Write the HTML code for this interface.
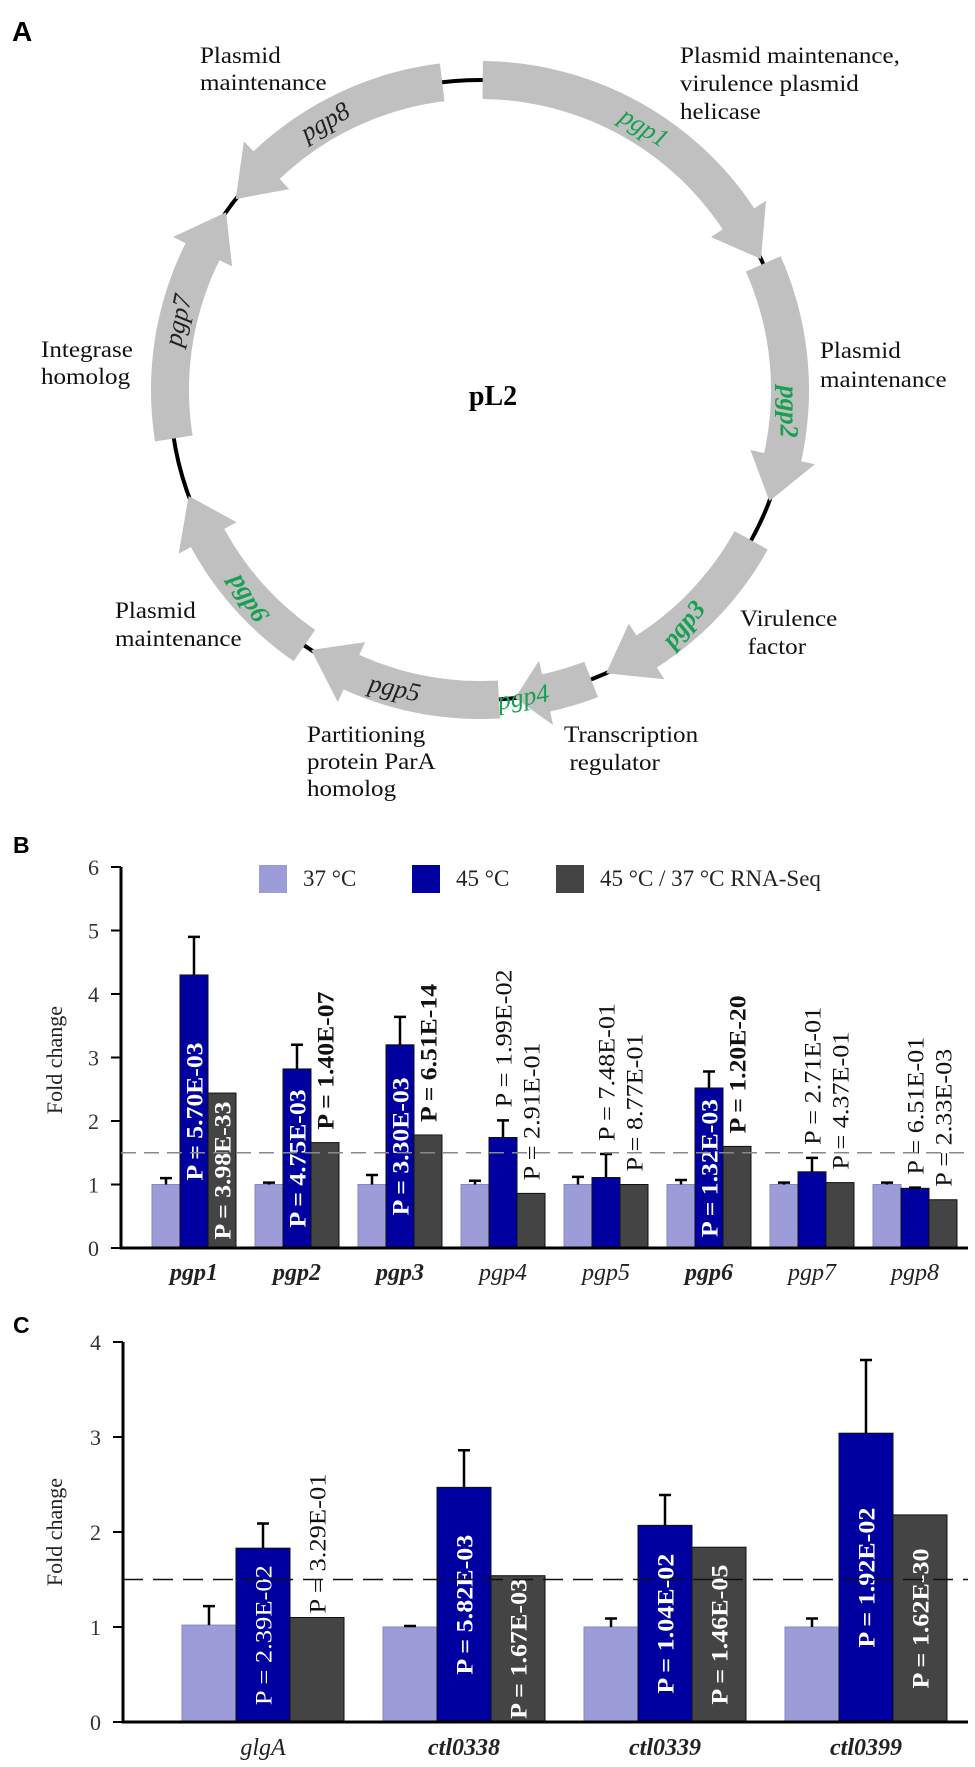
<!DOCTYPE html>
<html><head><meta charset="utf-8"><style>
html,body{margin:0;padding:0;background:#fff;}
svg{display:block;font-family:"Liberation Serif",serif;}
.sans{font-family:"Liberation Sans",sans-serif;}
</style></head><body>
<svg id="fig" width="975" height="1767" viewBox="0 0 975 1767" xmlns="http://www.w3.org/2000/svg">
<g id="panelA">
  <text class="sans" x="12" y="41" font-size="28" font-weight="bold">A</text>
  <circle cx="480" cy="390" r="310" fill="none" stroke="#000" stroke-width="4"/>
  <g id="genes"></g>
  <text x="493" y="405" font-size="28" font-weight="bold" text-anchor="middle">pL2</text>
  <g font-size="23" fill="#111">
    <g transform="translate(200,63) scale(1.09,1)"><text x="0" y="0">Plasmid</text><text x="0" y="27">maintenance</text></g>
    <g transform="translate(680,63) scale(1.09,1)"><text x="0" y="0">Plasmid maintenance,</text><text x="0" y="28">virulence plasmid</text><text x="0" y="56">helicase</text></g>
    <g transform="translate(820,358) scale(1.09,1)"><text x="0" y="0">Plasmid</text><text x="0" y="29">maintenance</text></g>
    <g transform="translate(41,357) scale(1.09,1)"><text x="0" y="0">Integrase</text><text x="0" y="27">homolog</text></g>
    <g transform="translate(115,618) scale(1.09,1)"><text x="0" y="0">Plasmid</text><text x="0" y="28">maintenance</text></g>
    <g transform="translate(740,626) scale(1.09,1)"><text x="0" y="0">Virulence</text><text x="7" y="28">factor</text></g>
    <g transform="translate(307,742) scale(1.09,1)"><text x="0" y="0">Partitioning</text><text x="0" y="27">protein ParA</text><text x="0" y="54">homolog</text></g>
    <g transform="translate(564,742) scale(1.09,1)"><text x="0" y="0">Transcription</text><text x="5" y="28">regulator</text></g>
  </g>
</g>
<g id="panelB">
  <text class="sans" x="13" y="853" font-size="23" font-weight="bold">B</text>
</g>
<g id="panelC">
  <text class="sans" x="13" y="1333" font-size="23" font-weight="bold">C</text>
</g>
</svg>
<script>
// ---------- Panel A data ----------
const geneNames = ["pgp1","pgp2","pgp3","pgp4","pgp5","pgp6","pgp7","pgp8"];
const geneTail = [0.5, 66, 119, 159, 176.5, 214.5, 261, 353];
const geneTip = [65, 111, 156, 173.5, 213, 250, 305, 308];
const geneGreen = [true,true,true,true,false,true,false,false];
const geneBold = [false,true,true,false,false,true,false,false];
const geneLabelAngle = [32, 94, 139, 172, 196, 228, 283, 330];
const geneLabelRot = [32, 90, -50, -10, 12, 60, -78, -30];

// ---------- Panel B data ----------
const bCats = ["pgp1","pgp2","pgp3","pgp4","pgp5","pgp6","pgp7","pgp8"];
const bCatBold = [true,true,true,false,false,true,false,false];
const b37 = [1,1,1,1,1,1,1,1];
const b37Err = [1.1,1.03,1.15,1.06,1.12,1.07,1.03,1.03];
const b45 = [4.3,2.82,3.2,1.74,1.11,2.52,1.2,0.94];
const b45Err = [4.9,3.2,3.64,2.01,1.48,2.78,1.42,0.95];
const bSeq = [2.44,1.66,1.78,0.86,1.0,1.6,1.03,0.76];
const bBlueP = ["5.70E-03","4.75E-03","3.30E-03","1.99E-02","7.48E-01","1.32E-03","2.71E-01","6.51E-01"];
const bBlueSig = [true,true,true,false,false,true,false,false];
const bDarkP = ["3.98E-33","1.40E-07","6.51E-14","2.91E-01","8.77E-01","1.20E-20","4.37E-01","2.33E-03"];
const bDarkInside = [true,false,false,false,false,false,false,false];
const bDarkBold = [true,true,true,false,false,true,false,false];
const bTicks = [0,1,2,3,4,5,6];
const bThreshold = 1.5;

// ---------- Panel C data ----------
const cCats = ["glgA","ctl0338","ctl0339","ctl0399"];
const cCatBold = [false,true,true,true];
const c37 = [1.02,1.0,1.0,1.0];
const c37Err = [1.22,1.01,1.09,1.09];
const c45 = [1.83,2.47,2.07,3.04];
const c45Err = [2.09,2.86,2.39,3.81];
const cSeq = [1.10,1.54,1.84,2.18];
const cBlueP = ["2.39E-02","5.82E-03","1.04E-02","1.92E-02"];
const cBlueBold = [false,true,true,true];
const cDarkP = ["3.29E-01","1.67E-03","1.46E-05","1.62E-30"];
const cDarkInside = [false,true,true,true];
const cTicks = [0,1,2,3,4];
const cThreshold = 1.5;

const NS = "http://www.w3.org/2000/svg";
function mk(tag, attrs, parent){
  const e = document.createElementNS(NS, tag);
  for (const k in attrs) e.setAttribute(k, attrs[k]);
  if (parent) parent.appendChild(e);
  return e;
}

// ---------- Draw panel A ----------
(function(){
  const g = document.getElementById("genes");
  const cx = 480, cy = 390, R = 310, hw = 19, headW = 33;
  const pt = (a, r) => { const t = a*Math.PI/180; return [cx + r*Math.sin(t), cy - r*Math.cos(t)]; };
  for (let i = 0; i < geneNames.length; i++) {
    const tail = geneTail[i], tip = geneTip[i];
    const dir = tip > tail ? 1 : -1;
    const len = Math.abs(tip - tail);
    const h = Math.min(8.5, len*0.4);
    const neck = tip - dir*h;
    const pts = [];
    const steps = 40;
    for (let k = 0; k <= steps; k++) { const a = tail + (neck - tail)*k/steps; pts.push(pt(a, R+hw)); }
    pts.push(pt(neck, R+headW)); pts.push(pt(tip, R)); pts.push(pt(neck, R-headW));
    for (let k = steps; k >= 0; k--) { const a = tail + (neck - tail)*k/steps; pts.push(pt(a, R-hw)); }
    const poly = mk("polygon", {points: pts.map(p => p[0].toFixed(1)+","+p[1].toFixed(1)).join(" "), fill:"#c0c0c0"}, g);
    
    
    const lp = pt(geneLabelAngle[i], R);
    const t = mk("text", {transform:"translate("+lp[0].toFixed(1)+","+lp[1].toFixed(1)+") rotate("+geneLabelRot[i]+")", "text-anchor":"middle", "dominant-baseline":"central", "font-size":"26", "font-style":"italic", "font-weight": geneBold[i] ? "bold" : "normal", fill: geneGreen[i] ? "#17a050" : "#222"}, g);
    t.textContent = geneNames[i];
    
    
  }
})();

// ---------- Generic grouped bar chart ----------
function drawChart(o){
  const root = document.getElementById(o.id);
  const y = v => o.y0 - v*o.unit;
  const bx = (i, j) => o.gx0 + i*o.gstep + j*o.bw;
  // axes
  const ya = mk("line", {x1:o.ax, y1:y(o.ticks[o.ticks.length-1]), x2:o.ax, y2:o.y0+1.5, stroke:"#000", "stroke-width":3}, root);
  
  
  for (const tv of o.ticks) {
    const tk = mk("line", {x1:o.ax-10, y1:y(tv), x2:o.ax, y2:y(tv), stroke:"#000", "stroke-width":2}, root);
    
    
    const tl = mk("text", {x:o.ax-22, y:y(tv)+8, "font-size":22, "text-anchor":"end", fill:"#333"}, root);
    tl.textContent = tv;
    
    
  }
  const yt = mk("text", {transform:"translate(62,"+o.ytY+") rotate(-90)", "font-size":22, "text-anchor":"middle", fill:"#222"}, root);
  yt.textContent = "Fold change";
  
  
  // bars
  const series = [o.s37, o.s45, o.sSeq];
  const errs = [o.e37, o.e45, null];
  const colors = ["#9c9cd8", "#0000a0", "#444444"];
  const snames = ["bar-37c", "bar-45c", "bar-rnaseq"];
  for (let i = 0; i < o.cats.length; i++) {
    for (let j = 0; j < 3; j++) {
      const v = series[j][i];
      const r = mk("rect", {x:bx(i,j), y:y(v), width:o.bw, height:o.y0 - y(v), fill:colors[j], stroke: j===0 ? "#8888bb" : "#111", "stroke-width":1}, root);
      
      
      if (errs[j]) {
        const ev = errs[j][i], xc = bx(i,j) + o.bw/2;
        const el = mk("path", {d:"M"+xc+","+y(v)+"V"+y(ev)+"M"+(xc-6)+","+y(ev)+"H"+(xc+6), stroke:"#000", "stroke-width":2.5, fill:"none"}, root);
        
        
      }
    }
    const cl = mk("text", {x:bx(i,0) + 1.5*o.bw, y:o.catY, "font-size":24, "font-style":"italic", "font-weight": o.catBold[i] ? "bold" : "normal", "text-anchor":"middle", fill:"#222"}, root);
    cl.textContent = o.cats[i];
    
    
    // p labels
    const pl = [
      {txt:o.blueP[i], inside:o.blueInside[i], bold:o.blueBold[i], j:1, top: Math.max(o.s45[i], o.e45[i])},
      {txt:o.darkP[i], inside:o.darkInside[i], bold:o.darkBold[i], j:2, top: o.sSeq[i]}
    ];
    for (const p of pl) {
      const xc = bx(i,p.j) + o.bw/2 + 1;
      let attrs;
      if (p.inside) {
        const yc = (o.y0 + y(series[p.j][i]))/2;
        attrs = {transform:"translate("+xc+","+yc+") rotate(-90)", "text-anchor":"middle", fill:"#fff"};
      } else {
        attrs = {transform:"translate("+xc+","+(y(p.top)-o.gap)+") rotate(-90)", "text-anchor":"start", fill:"#111"};
      }
      attrs["dominant-baseline"] = "central";
      attrs["font-size"] = 23;
      attrs["font-weight"] = p.bold ? "bold" : "normal";
      attrs["textLength"] = o.pLen;
      attrs["lengthAdjust"] = "spacingAndGlyphs";
      const t = mk("text", attrs, root);
      t.textContent = "P = " + p.txt;
      
      
    }
  }
  const xa = mk("line", {x1:o.ax-1.5, y1:o.y0, x2:968, y2:o.y0, stroke:"#000", "stroke-width":3}, root);
  
  
  const th = mk("line", {x1:o.ax, y1:y(o.thr), x2:968, y2:y(o.thr), stroke:o.dashColor, "stroke-width":1.5, "stroke-dasharray":o.dash}, root);
  
  
}

drawChart({id:"panelB", y0:1248, unit:63.5, ax:121, gx0:152, gstep:103, bw:28, ticks:bTicks, ytY:1060, catY:1280,
  cats:bCats, catBold:bCatBold, s37:b37, e37:b37Err, s45:b45, e45:b45Err, sSeq:bSeq,
  blueP:bBlueP, blueInside:bBlueSig, blueBold:bBlueSig, darkP:bDarkP, darkInside:bDarkInside, darkBold:bDarkBold,
  gap:13, pLen:138, thr:bThreshold, dashColor:"#888", dash:"15 8"});

drawChart({id:"panelC", y0:1722, unit:95, ax:123, gx0:182, gstep:201, bw:54, ticks:cTicks, ytY:1532, catY:1755,
  cats:cCats, catBold:cCatBold, s37:c37, e37:c37Err, s45:c45, e45:c45Err, sSeq:cSeq,
  blueP:cBlueP, blueInside:[true,true,true,true], blueBold:cBlueBold, darkP:cDarkP, darkInside:cDarkInside, darkBold:cDarkInside,
  gap:4, pLen:140, thr:cThreshold, dashColor:"#111", dash:"20 10"});

// legend for B
(function(){
  const root = document.getElementById("panelB");
  const legendLabels = ["37 °C", "45 °C", "45 °C / 37 °C RNA-Seq"];
  const legendColors = ["#9c9cd8", "#0000a0", "#444444"];
  const sx = [259, 412, 556];
  for (let k = 0; k < 3; k++) {
    const g = mk("g", {}, root);
    
    
    mk("rect", {x:sx[k], y:865, width:28, height:28, fill:legendColors[k]}, g);
    const t = mk("text", {x:sx[k]+44, y:886, "font-size":23, fill:"#222"}, g);
    t.textContent = legendLabels[k];
  }
})();
</script>
</body></html>
